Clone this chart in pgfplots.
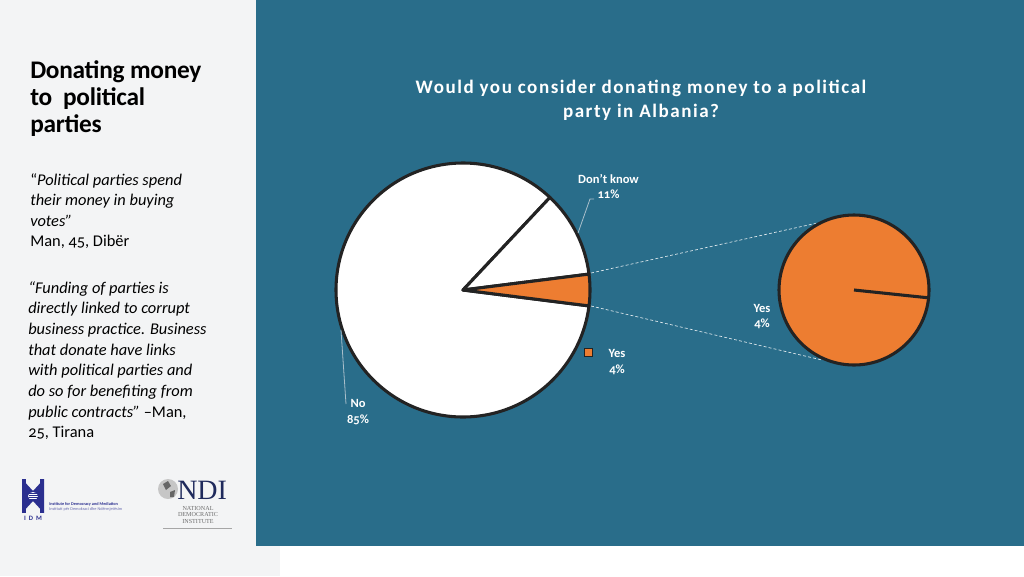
\documentclass[border=0pt]{standalone}
\usepackage{pgfplots}
\pgfplotsset{compat=1.18}
\usepackage{fontspec}
\setmainfont{Carlito}[Numbers=OldStyle]
\newfontfamily\seriffont{Liberation Serif}
\definecolor{panelblue}{HTML}{296D8A}
\definecolor{pieorange}{HTML}{ED7D31}
\definecolor{edgec}{HTML}{232323}
\definecolor{leftgray}{HTML}{F3F4F5}
\definecolor{idmblue}{HTML}{2B2F8F}
\definecolor{ndinavy}{HTML}{1F2A5C}
\definecolor{leader}{HTML}{A9BFCB}

% data (percent)
\def\pYes{4}
\def\pDK{11}
\def\pNo{85}

\begin{document}
\begin{tikzpicture}[x=0.75pt,y=-0.75pt]
% backgrounds
\fill[leftgray] (0,0) rectangle (280,576);
\fill[white] (280,546) rectangle (1024,576);
\fill[panelblue] (256,0) rectangle (1024,546);

\pgfmathsetmacro{\aA}{-\pYes*1.8}
\pgfmathsetmacro{\aB}{\aA+\pYes*3.6}
\pgfmathsetmacro{\aC}{\aB+\pDK*3.6}
\pgfmathsetmacro{\aD}{\aC+\pNo*3.6}

% connector dashed lines
\draw[white!85!panelblue, dash pattern=on 2.2pt off 1.6pt, line width=0.5pt] (591,273) -- (822,222);
\draw[white!85!panelblue, dash pattern=on 2.2pt off 1.6pt, line width=0.5pt] (591,306) -- (822,360);

\begin{axis}[at={(0,0)}, anchor=north west, scale only axis,
  width=768pt, height=432pt, xmin=0, xmax=1024, ymin=0, ymax=576,
  hide axis, clip=false]
  % main pie: No
  \fill[white, draw=edgec, line width=2.3pt, line join=round]
    (axis cs:463,286) -- ++(\aC:95.25pt) arc[start angle=\aC, end angle=\aD, radius=95.25pt] -- cycle;
  % Don't know
  \fill[white, draw=edgec, line width=2.3pt, line join=round]
    (axis cs:463,286) -- ++(\aB:95.25pt) arc[start angle=\aB, end angle=\aC, radius=95.25pt] -- cycle;
  % Yes
  \fill[pieorange, draw=edgec, line width=2.3pt, line join=round]
    (axis cs:463,286) -- ++(\aA:95.25pt) arc[start angle=\aA, end angle=\aB, radius=95.25pt] -- cycle;
  % secondary pie: Yes = 100% of the split part
  \fill[pieorange, draw=edgec, line width=2.3pt]
    (axis cs:854,286) circle[radius=56.25pt];
  \draw[edgec, line width=2.3pt] (axis cs:854,286) -- ++(-6:56.25pt);
\end{axis}

% leader lines
\draw[leader, line width=0.6pt] (578,233) -- (590,199) -- (594,199);
\draw[leader, line width=0.6pt] (341,330) -- (346,404);

% legend marker
\fill[pieorange, draw=edgec, line width=1.3pt] (584.5,348.5) rectangle (592.5,356.5);

% pie labels
\begin{scope}[every node/.style={text=white, inner sep=0pt, font=\fontsize{9.4}{11}\selectfont\bfseries}]
\node[anchor=base] at (608.5,183) {Don't know};
\node[anchor=base] at (608.5,198) {11\%};
\node[anchor=base] at (617,357) {Yes};
\node[anchor=base] at (617,373) {4\%};
\node[anchor=base] at (762,312) {Yes};
\node[anchor=base] at (762,327) {4\%};
\node[anchor=base] at (358,407) {No};
\node[anchor=base] at (358,423) {85\%};
\end{scope}

% title
\node[anchor=base, inner sep=0pt, text=white, font=\fontsize{14.3}{18}\selectfont\bfseries\addfontfeatures{LetterSpace=8}]
  at (641,93) {Would you consider donating money to a political};
\node[anchor=base, inner sep=0pt, text=white, font=\fontsize{14.3}{18}\selectfont\bfseries\addfontfeatures{LetterSpace=8}]
  at (641,117) {party in Albania?};

% left heading
\node[anchor=base west, inner sep=0pt, text=black] at (30,78)
  {\parbox[t]{200pt}{\fontsize{19}{20.25}\selectfont\bfseries\addfontfeatures{LetterSpace=-1}%
   Donating money\\to\ \ political\\parties}};

% quotes
\node[anchor=base west, inner sep=0pt, text=black] at (30,185.5)
  {\parbox[t]{220pt}{\fontsize{12.3}{15.2}\selectfont
   “\textit{Political parties spend\\their money in buying\\votes”}\\Man, 45, Dibër}};
\node[anchor=base west, inner sep=0pt, text=black] at (28,293)
  {\parbox[t]{220pt}{\fontsize{12.3}{15.5}\selectfont\itshape
   “Funding of parties is\\directly linked to corrupt\\business practice. Business\\that donate have links\\with political parties and\\do so for benefiting from\\public contracts” \upshape –Man,\\25, Tirana}};

% IDM logo (approximation)
\fill[idmblue] (22,479) -- (33,491) -- (44,479) -- (44,513) -- (33,501) -- (22,513) -- cycle;
\fill[idmblue] (22,479) rectangle (26,513);
\fill[idmblue] (40,479) rectangle (44,513);
\fill[white] (33,496) ellipse[x radius=5, y radius=4];
\foreach \yy in {493.5,495.5,497.5,499.5} \draw[idmblue, line width=0.4pt] (28.5,\yy) -- (37.5,\yy);
\node[anchor=base, inner sep=0pt, text=idmblue, font=\fontsize{5}{5}\selectfont\bfseries] at (33,520) {I\ \ D\ \ M};
\node[anchor=base west, inner sep=0pt, text=idmblue, font=\fontsize{3.2}{3.2}\selectfont\bfseries] at (49,505) {Institute for Democracy and Mediation};
\node[anchor=base west, inner sep=0pt, text=idmblue!70, font=\fontsize{3.2}{3.2}\selectfont] at (49,510) {Instituti për Demokraci dhe Ndërmjetësim};

% NDI logo (approximation)
\fill[gray!45] (168,489) circle[radius=10];
\fill[gray!80!black] (163,484) -- (168,481) -- (171,486) -- (166,490) -- cycle;
\fill[gray!80!black] (170,492) -- (175,490) -- (174,497) -- (170,497) -- cycle;
\node[anchor=base west, inner sep=0pt, text=ndinavy, font=\seriffont\fontsize{21}{21}\selectfont] at (177,499) {NDI};
\begin{scope}[every node/.style={anchor=base, inner sep=0pt, text=gray!85!black, font=\seriffont\fontsize{4.6}{5}\selectfont}]
\node at (198,510) {NATIONAL};
\node at (198,516.5) {DEMOCRATIC};
\node at (198,523) {INSTITUTE};
\end{scope}
\draw[gray!70, line width=0.6pt] (163,528) -- (232,528);
\end{tikzpicture}
\end{document}
